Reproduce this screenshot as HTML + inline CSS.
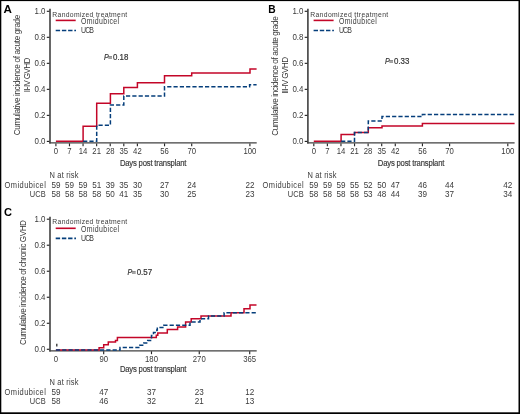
<!DOCTYPE html>
<html><head><meta charset="utf-8"><style>
html,body{margin:0;padding:0;background:#fff;}
body{width:520px;height:414px;overflow:hidden;}
svg{display:block;will-change:transform;font-family:"Liberation Sans", sans-serif;}
</style></head><body>
<svg width="520" height="414" viewBox="0 0 520 414">
<rect x="0" y="0" width="520" height="414" fill="#fff"/>
<line x1="50.00" y1="8.80" x2="50.00" y2="143.50" stroke="#404040" stroke-width="1.6"/>
<line x1="49.20" y1="142.90" x2="256.70" y2="142.90" stroke="#404040" stroke-width="1.3"/>
<line x1="46.80" y1="11.30" x2="49.50" y2="11.30" stroke="#262626" stroke-width="1.15"/>
<text transform="translate(45.50,13.80) scale(0.9,1)" font-size="8.8" fill="#3a3a3a" text-anchor="end">1.0</text>
<line x1="46.80" y1="37.32" x2="49.50" y2="37.32" stroke="#262626" stroke-width="1.15"/>
<text transform="translate(45.50,39.82) scale(0.9,1)" font-size="8.8" fill="#3a3a3a" text-anchor="end">0.8</text>
<line x1="46.80" y1="63.34" x2="49.50" y2="63.34" stroke="#262626" stroke-width="1.15"/>
<text transform="translate(45.50,65.84) scale(0.9,1)" font-size="8.8" fill="#3a3a3a" text-anchor="end">0.6</text>
<line x1="46.80" y1="89.36" x2="49.50" y2="89.36" stroke="#262626" stroke-width="1.15"/>
<text transform="translate(45.50,91.86) scale(0.9,1)" font-size="8.8" fill="#3a3a3a" text-anchor="end">0.4</text>
<line x1="46.80" y1="115.38" x2="49.50" y2="115.38" stroke="#262626" stroke-width="1.15"/>
<text transform="translate(45.50,117.88) scale(0.9,1)" font-size="8.8" fill="#3a3a3a" text-anchor="end">0.2</text>
<line x1="46.80" y1="141.40" x2="49.50" y2="141.40" stroke="#262626" stroke-width="1.15"/>
<text transform="translate(45.50,143.90) scale(0.9,1)" font-size="8.8" fill="#3a3a3a" text-anchor="end">0.0</text>
<line x1="55.90" y1="143.40" x2="55.90" y2="146.30" stroke="#262626" stroke-width="1.15"/>
<text transform="translate(55.90,154.10) scale(0.9,1)" font-size="8.6" fill="#3a3a3a" text-anchor="middle">0</text>
<line x1="69.48" y1="143.40" x2="69.48" y2="146.30" stroke="#262626" stroke-width="1.15"/>
<text transform="translate(69.48,154.10) scale(0.9,1)" font-size="8.6" fill="#3a3a3a" text-anchor="middle">7</text>
<line x1="83.06" y1="143.40" x2="83.06" y2="146.30" stroke="#262626" stroke-width="1.15"/>
<text transform="translate(83.06,154.10) scale(0.9,1)" font-size="8.6" fill="#3a3a3a" text-anchor="middle">14</text>
<line x1="96.64" y1="143.40" x2="96.64" y2="146.30" stroke="#262626" stroke-width="1.15"/>
<text transform="translate(96.64,154.10) scale(0.9,1)" font-size="8.6" fill="#3a3a3a" text-anchor="middle">21</text>
<line x1="110.22" y1="143.40" x2="110.22" y2="146.30" stroke="#262626" stroke-width="1.15"/>
<text transform="translate(110.22,154.10) scale(0.9,1)" font-size="8.6" fill="#3a3a3a" text-anchor="middle">28</text>
<line x1="123.80" y1="143.40" x2="123.80" y2="146.30" stroke="#262626" stroke-width="1.15"/>
<text transform="translate(123.80,154.10) scale(0.9,1)" font-size="8.6" fill="#3a3a3a" text-anchor="middle">35</text>
<line x1="137.38" y1="143.40" x2="137.38" y2="146.30" stroke="#262626" stroke-width="1.15"/>
<text transform="translate(137.38,154.10) scale(0.9,1)" font-size="8.6" fill="#3a3a3a" text-anchor="middle">42</text>
<line x1="164.54" y1="143.40" x2="164.54" y2="146.30" stroke="#262626" stroke-width="1.15"/>
<text transform="translate(164.54,154.10) scale(0.9,1)" font-size="8.6" fill="#3a3a3a" text-anchor="middle">56</text>
<line x1="191.70" y1="143.40" x2="191.70" y2="146.30" stroke="#262626" stroke-width="1.15"/>
<text transform="translate(191.70,154.10) scale(0.9,1)" font-size="8.6" fill="#3a3a3a" text-anchor="middle">70</text>
<line x1="249.90" y1="143.40" x2="249.90" y2="146.30" stroke="#262626" stroke-width="1.15"/>
<text transform="translate(249.90,154.10) scale(0.9,1)" font-size="8.6" fill="#3a3a3a" text-anchor="middle">100</text>
<text transform="translate(119.90,166.10) scale(0.8,1)" font-size="9.6" fill="#383838" textLength="83.25" lengthAdjust="spacing" stroke="#383838" stroke-width="0.18">Days post transplant</text>
<text transform="translate(49.50,177.50) scale(0.84,1)" font-size="8.9" fill="#3a3a3a" textLength="34.52" lengthAdjust="spacing">N at risk</text>
<text transform="translate(4.60,188.00) scale(0.84,1)" font-size="8.9" fill="#3a3a3a" textLength="49.05" lengthAdjust="spacing">Omidubicel</text>
<text transform="translate(29.80,196.90) scale(0.84,1)" font-size="8.9" fill="#3a3a3a" textLength="19.05" lengthAdjust="spacing">UCB</text>
<text transform="translate(55.90,188.00) scale(0.9,1)" font-size="9.0" fill="#3a3a3a" text-anchor="middle">59</text>
<text transform="translate(55.90,197.00) scale(0.9,1)" font-size="9.0" fill="#3a3a3a" text-anchor="middle">58</text>
<text transform="translate(69.48,188.00) scale(0.9,1)" font-size="9.0" fill="#3a3a3a" text-anchor="middle">59</text>
<text transform="translate(69.48,197.00) scale(0.9,1)" font-size="9.0" fill="#3a3a3a" text-anchor="middle">58</text>
<text transform="translate(83.06,188.00) scale(0.9,1)" font-size="9.0" fill="#3a3a3a" text-anchor="middle">59</text>
<text transform="translate(83.06,197.00) scale(0.9,1)" font-size="9.0" fill="#3a3a3a" text-anchor="middle">58</text>
<text transform="translate(96.64,188.00) scale(0.9,1)" font-size="9.0" fill="#3a3a3a" text-anchor="middle">51</text>
<text transform="translate(96.64,197.00) scale(0.9,1)" font-size="9.0" fill="#3a3a3a" text-anchor="middle">58</text>
<text transform="translate(110.22,188.00) scale(0.9,1)" font-size="9.0" fill="#3a3a3a" text-anchor="middle">39</text>
<text transform="translate(110.22,197.00) scale(0.9,1)" font-size="9.0" fill="#3a3a3a" text-anchor="middle">50</text>
<text transform="translate(123.80,188.00) scale(0.9,1)" font-size="9.0" fill="#3a3a3a" text-anchor="middle">35</text>
<text transform="translate(123.80,197.00) scale(0.9,1)" font-size="9.0" fill="#3a3a3a" text-anchor="middle">41</text>
<text transform="translate(137.38,188.00) scale(0.9,1)" font-size="9.0" fill="#3a3a3a" text-anchor="middle">30</text>
<text transform="translate(137.38,197.00) scale(0.9,1)" font-size="9.0" fill="#3a3a3a" text-anchor="middle">35</text>
<text transform="translate(164.54,188.00) scale(0.9,1)" font-size="9.0" fill="#3a3a3a" text-anchor="middle">27</text>
<text transform="translate(164.54,197.00) scale(0.9,1)" font-size="9.0" fill="#3a3a3a" text-anchor="middle">30</text>
<text transform="translate(191.70,188.00) scale(0.9,1)" font-size="9.0" fill="#3a3a3a" text-anchor="middle">24</text>
<text transform="translate(191.70,197.00) scale(0.9,1)" font-size="9.0" fill="#3a3a3a" text-anchor="middle">25</text>
<text transform="translate(249.90,188.00) scale(0.9,1)" font-size="9.0" fill="#3a3a3a" text-anchor="middle">22</text>
<text transform="translate(249.90,197.00) scale(0.9,1)" font-size="9.0" fill="#3a3a3a" text-anchor="middle">23</text>
<text transform="translate(52.30,16.50) scale(0.84,1)" font-size="8.1" fill="#3a3a3a" textLength="89.17" lengthAdjust="spacing">Randomized treatment</text>
<line x1="55.70" y1="20.40" x2="75.70" y2="20.40" stroke="#c30628" stroke-width="1.6"/>
<text transform="translate(81.00,23.80) scale(0.8,1)" font-size="8.7" fill="#3a3a3a" textLength="47.50" lengthAdjust="spacing">Omidubicel</text>
<line x1="55.70" y1="30.50" x2="76.00" y2="30.50" stroke="#053e7b" stroke-width="1.6" stroke-dasharray="4.4 1.8"/>
<text transform="translate(81.00,32.70) scale(0.8,1)" font-size="8.7" fill="#3a3a3a" textLength="16.25" lengthAdjust="spacing">UCB</text>
<text transform="translate(103.90,59.50) scale(0.82,1)" font-size="8.6" fill="#333" font-style="italic" stroke="#333" stroke-width="0.2">P</text>
<rect x="108.30" y="56.35" width="3.7" height="0.9" fill="#555"/>
<rect x="108.30" y="57.65" width="3.7" height="0.9" fill="#555"/>
<text x="113.00" y="59.50" font-size="8.6" fill="#333" stroke="#333" stroke-width="0.2" textLength="15.4" lengthAdjust="spacingAndGlyphs">0.18</text>
<line x1="307.90" y1="8.80" x2="307.90" y2="143.50" stroke="#404040" stroke-width="1.6"/>
<line x1="307.10" y1="142.90" x2="514.60" y2="142.90" stroke="#404040" stroke-width="1.3"/>
<line x1="304.70" y1="11.30" x2="307.40" y2="11.30" stroke="#262626" stroke-width="1.15"/>
<text transform="translate(303.40,13.80) scale(0.9,1)" font-size="8.8" fill="#3a3a3a" text-anchor="end">1.0</text>
<line x1="304.70" y1="37.32" x2="307.40" y2="37.32" stroke="#262626" stroke-width="1.15"/>
<text transform="translate(303.40,39.82) scale(0.9,1)" font-size="8.8" fill="#3a3a3a" text-anchor="end">0.8</text>
<line x1="304.70" y1="63.34" x2="307.40" y2="63.34" stroke="#262626" stroke-width="1.15"/>
<text transform="translate(303.40,65.84) scale(0.9,1)" font-size="8.8" fill="#3a3a3a" text-anchor="end">0.6</text>
<line x1="304.70" y1="89.36" x2="307.40" y2="89.36" stroke="#262626" stroke-width="1.15"/>
<text transform="translate(303.40,91.86) scale(0.9,1)" font-size="8.8" fill="#3a3a3a" text-anchor="end">0.4</text>
<line x1="304.70" y1="115.38" x2="307.40" y2="115.38" stroke="#262626" stroke-width="1.15"/>
<text transform="translate(303.40,117.88) scale(0.9,1)" font-size="8.8" fill="#3a3a3a" text-anchor="end">0.2</text>
<line x1="304.70" y1="141.40" x2="307.40" y2="141.40" stroke="#262626" stroke-width="1.15"/>
<text transform="translate(303.40,143.90) scale(0.9,1)" font-size="8.8" fill="#3a3a3a" text-anchor="end">0.0</text>
<line x1="313.80" y1="143.40" x2="313.80" y2="146.30" stroke="#262626" stroke-width="1.15"/>
<text transform="translate(313.80,154.10) scale(0.9,1)" font-size="8.6" fill="#3a3a3a" text-anchor="middle">0</text>
<line x1="327.38" y1="143.40" x2="327.38" y2="146.30" stroke="#262626" stroke-width="1.15"/>
<text transform="translate(327.38,154.10) scale(0.9,1)" font-size="8.6" fill="#3a3a3a" text-anchor="middle">7</text>
<line x1="340.96" y1="143.40" x2="340.96" y2="146.30" stroke="#262626" stroke-width="1.15"/>
<text transform="translate(340.96,154.10) scale(0.9,1)" font-size="8.6" fill="#3a3a3a" text-anchor="middle">14</text>
<line x1="354.54" y1="143.40" x2="354.54" y2="146.30" stroke="#262626" stroke-width="1.15"/>
<text transform="translate(354.54,154.10) scale(0.9,1)" font-size="8.6" fill="#3a3a3a" text-anchor="middle">21</text>
<line x1="368.12" y1="143.40" x2="368.12" y2="146.30" stroke="#262626" stroke-width="1.15"/>
<text transform="translate(368.12,154.10) scale(0.9,1)" font-size="8.6" fill="#3a3a3a" text-anchor="middle">28</text>
<line x1="381.70" y1="143.40" x2="381.70" y2="146.30" stroke="#262626" stroke-width="1.15"/>
<text transform="translate(381.70,154.10) scale(0.9,1)" font-size="8.6" fill="#3a3a3a" text-anchor="middle">35</text>
<line x1="395.28" y1="143.40" x2="395.28" y2="146.30" stroke="#262626" stroke-width="1.15"/>
<text transform="translate(395.28,154.10) scale(0.9,1)" font-size="8.6" fill="#3a3a3a" text-anchor="middle">42</text>
<line x1="422.44" y1="143.40" x2="422.44" y2="146.30" stroke="#262626" stroke-width="1.15"/>
<text transform="translate(422.44,154.10) scale(0.9,1)" font-size="8.6" fill="#3a3a3a" text-anchor="middle">56</text>
<line x1="449.60" y1="143.40" x2="449.60" y2="146.30" stroke="#262626" stroke-width="1.15"/>
<text transform="translate(449.60,154.10) scale(0.9,1)" font-size="8.6" fill="#3a3a3a" text-anchor="middle">70</text>
<line x1="507.80" y1="143.40" x2="507.80" y2="146.30" stroke="#262626" stroke-width="1.15"/>
<text transform="translate(507.80,154.10) scale(0.9,1)" font-size="8.6" fill="#3a3a3a" text-anchor="middle">100</text>
<text transform="translate(377.80,166.10) scale(0.8,1)" font-size="9.6" fill="#383838" textLength="83.25" lengthAdjust="spacing" stroke="#383838" stroke-width="0.18">Days post transplant</text>
<text transform="translate(307.40,177.50) scale(0.84,1)" font-size="8.9" fill="#3a3a3a" textLength="34.52" lengthAdjust="spacing">N at risk</text>
<text transform="translate(262.50,188.00) scale(0.84,1)" font-size="8.9" fill="#3a3a3a" textLength="49.05" lengthAdjust="spacing">Omidubicel</text>
<text transform="translate(287.70,196.90) scale(0.84,1)" font-size="8.9" fill="#3a3a3a" textLength="19.05" lengthAdjust="spacing">UCB</text>
<text transform="translate(313.80,188.00) scale(0.9,1)" font-size="9.0" fill="#3a3a3a" text-anchor="middle">59</text>
<text transform="translate(313.80,197.00) scale(0.9,1)" font-size="9.0" fill="#3a3a3a" text-anchor="middle">58</text>
<text transform="translate(327.38,188.00) scale(0.9,1)" font-size="9.0" fill="#3a3a3a" text-anchor="middle">59</text>
<text transform="translate(327.38,197.00) scale(0.9,1)" font-size="9.0" fill="#3a3a3a" text-anchor="middle">58</text>
<text transform="translate(340.96,188.00) scale(0.9,1)" font-size="9.0" fill="#3a3a3a" text-anchor="middle">59</text>
<text transform="translate(340.96,197.00) scale(0.9,1)" font-size="9.0" fill="#3a3a3a" text-anchor="middle">58</text>
<text transform="translate(354.54,188.00) scale(0.9,1)" font-size="9.0" fill="#3a3a3a" text-anchor="middle">55</text>
<text transform="translate(354.54,197.00) scale(0.9,1)" font-size="9.0" fill="#3a3a3a" text-anchor="middle">58</text>
<text transform="translate(368.12,188.00) scale(0.9,1)" font-size="9.0" fill="#3a3a3a" text-anchor="middle">52</text>
<text transform="translate(368.12,197.00) scale(0.9,1)" font-size="9.0" fill="#3a3a3a" text-anchor="middle">53</text>
<text transform="translate(381.70,188.00) scale(0.9,1)" font-size="9.0" fill="#3a3a3a" text-anchor="middle">50</text>
<text transform="translate(381.70,197.00) scale(0.9,1)" font-size="9.0" fill="#3a3a3a" text-anchor="middle">48</text>
<text transform="translate(395.28,188.00) scale(0.9,1)" font-size="9.0" fill="#3a3a3a" text-anchor="middle">47</text>
<text transform="translate(395.28,197.00) scale(0.9,1)" font-size="9.0" fill="#3a3a3a" text-anchor="middle">44</text>
<text transform="translate(422.44,188.00) scale(0.9,1)" font-size="9.0" fill="#3a3a3a" text-anchor="middle">46</text>
<text transform="translate(422.44,197.00) scale(0.9,1)" font-size="9.0" fill="#3a3a3a" text-anchor="middle">39</text>
<text transform="translate(449.60,188.00) scale(0.9,1)" font-size="9.0" fill="#3a3a3a" text-anchor="middle">44</text>
<text transform="translate(449.60,197.00) scale(0.9,1)" font-size="9.0" fill="#3a3a3a" text-anchor="middle">37</text>
<text transform="translate(507.80,188.00) scale(0.9,1)" font-size="9.0" fill="#3a3a3a" text-anchor="middle">42</text>
<text transform="translate(507.80,197.00) scale(0.9,1)" font-size="9.0" fill="#3a3a3a" text-anchor="middle">34</text>
<text transform="translate(310.20,16.50) scale(0.84,1)" font-size="8.1" fill="#3a3a3a" textLength="92.86" lengthAdjust="spacing">Randomized ttreatment</text>
<line x1="313.60" y1="20.40" x2="333.60" y2="20.40" stroke="#c30628" stroke-width="1.6"/>
<text transform="translate(338.90,23.80) scale(0.8,1)" font-size="8.7" fill="#3a3a3a" textLength="47.50" lengthAdjust="spacing">Omidubicel</text>
<line x1="313.60" y1="30.50" x2="333.90" y2="30.50" stroke="#053e7b" stroke-width="1.6" stroke-dasharray="4.4 1.8"/>
<text transform="translate(338.90,32.70) scale(0.8,1)" font-size="8.7" fill="#3a3a3a" textLength="16.25" lengthAdjust="spacing">UCB</text>
<text transform="translate(384.90,63.50) scale(0.82,1)" font-size="8.6" fill="#333" font-style="italic" stroke="#333" stroke-width="0.2">P</text>
<rect x="389.30" y="60.35" width="3.7" height="0.9" fill="#555"/>
<rect x="389.30" y="61.65" width="3.7" height="0.9" fill="#555"/>
<text x="394.00" y="63.50" font-size="8.6" fill="#333" stroke="#333" stroke-width="0.2" textLength="15.4" lengthAdjust="spacingAndGlyphs">0.33</text>
<line x1="50.00" y1="216.70" x2="50.00" y2="351.40" stroke="#404040" stroke-width="1.6"/>
<line x1="49.20" y1="350.80" x2="256.70" y2="350.80" stroke="#404040" stroke-width="1.3"/>
<line x1="46.80" y1="219.20" x2="49.50" y2="219.20" stroke="#262626" stroke-width="1.15"/>
<text transform="translate(45.50,221.70) scale(0.9,1)" font-size="8.8" fill="#3a3a3a" text-anchor="end">1.0</text>
<line x1="46.80" y1="245.22" x2="49.50" y2="245.22" stroke="#262626" stroke-width="1.15"/>
<text transform="translate(45.50,247.72) scale(0.9,1)" font-size="8.8" fill="#3a3a3a" text-anchor="end">0.8</text>
<line x1="46.80" y1="271.24" x2="49.50" y2="271.24" stroke="#262626" stroke-width="1.15"/>
<text transform="translate(45.50,273.74) scale(0.9,1)" font-size="8.8" fill="#3a3a3a" text-anchor="end">0.6</text>
<line x1="46.80" y1="297.26" x2="49.50" y2="297.26" stroke="#262626" stroke-width="1.15"/>
<text transform="translate(45.50,299.76) scale(0.9,1)" font-size="8.8" fill="#3a3a3a" text-anchor="end">0.4</text>
<line x1="46.80" y1="323.28" x2="49.50" y2="323.28" stroke="#262626" stroke-width="1.15"/>
<text transform="translate(45.50,325.78) scale(0.9,1)" font-size="8.8" fill="#3a3a3a" text-anchor="end">0.2</text>
<line x1="46.80" y1="349.30" x2="49.50" y2="349.30" stroke="#262626" stroke-width="1.15"/>
<text transform="translate(45.50,351.80) scale(0.9,1)" font-size="8.8" fill="#3a3a3a" text-anchor="end">0.0</text>
<text transform="translate(55.90,362.00) scale(0.9,1)" font-size="8.6" fill="#3a3a3a" text-anchor="middle">0</text>
<line x1="103.69" y1="351.30" x2="103.69" y2="354.20" stroke="#262626" stroke-width="1.15"/>
<text transform="translate(103.69,362.00) scale(0.9,1)" font-size="8.6" fill="#3a3a3a" text-anchor="middle">90</text>
<line x1="151.48" y1="351.30" x2="151.48" y2="354.20" stroke="#262626" stroke-width="1.15"/>
<text transform="translate(151.48,362.00) scale(0.9,1)" font-size="8.6" fill="#3a3a3a" text-anchor="middle">180</text>
<line x1="199.27" y1="351.30" x2="199.27" y2="354.20" stroke="#262626" stroke-width="1.15"/>
<text transform="translate(199.27,362.00) scale(0.9,1)" font-size="8.6" fill="#3a3a3a" text-anchor="middle">270</text>
<line x1="249.72" y1="351.30" x2="249.72" y2="354.20" stroke="#262626" stroke-width="1.15"/>
<text transform="translate(249.72,362.00) scale(0.9,1)" font-size="8.6" fill="#3a3a3a" text-anchor="middle">365</text>
<text transform="translate(119.90,372.10) scale(0.8,1)" font-size="9.6" fill="#383838" textLength="83.25" lengthAdjust="spacing" stroke="#383838" stroke-width="0.18">Days post transplant</text>
<text transform="translate(49.50,384.60) scale(0.84,1)" font-size="8.9" fill="#3a3a3a" textLength="34.52" lengthAdjust="spacing">N at risk</text>
<text transform="translate(4.60,394.60) scale(0.84,1)" font-size="8.9" fill="#3a3a3a" textLength="49.05" lengthAdjust="spacing">Omidubicel</text>
<text transform="translate(29.80,403.50) scale(0.84,1)" font-size="8.9" fill="#3a3a3a" textLength="19.05" lengthAdjust="spacing">UCB</text>
<text transform="translate(55.90,394.60) scale(0.9,1)" font-size="9.0" fill="#3a3a3a" text-anchor="middle">59</text>
<text transform="translate(55.90,403.60) scale(0.9,1)" font-size="9.0" fill="#3a3a3a" text-anchor="middle">58</text>
<text transform="translate(103.69,394.60) scale(0.9,1)" font-size="9.0" fill="#3a3a3a" text-anchor="middle">47</text>
<text transform="translate(103.69,403.60) scale(0.9,1)" font-size="9.0" fill="#3a3a3a" text-anchor="middle">46</text>
<text transform="translate(151.48,394.60) scale(0.9,1)" font-size="9.0" fill="#3a3a3a" text-anchor="middle">37</text>
<text transform="translate(151.48,403.60) scale(0.9,1)" font-size="9.0" fill="#3a3a3a" text-anchor="middle">32</text>
<text transform="translate(199.27,394.60) scale(0.9,1)" font-size="9.0" fill="#3a3a3a" text-anchor="middle">23</text>
<text transform="translate(199.27,403.60) scale(0.9,1)" font-size="9.0" fill="#3a3a3a" text-anchor="middle">21</text>
<text transform="translate(249.72,394.60) scale(0.9,1)" font-size="9.0" fill="#3a3a3a" text-anchor="middle">12</text>
<text transform="translate(249.72,403.60) scale(0.9,1)" font-size="9.0" fill="#3a3a3a" text-anchor="middle">13</text>
<text transform="translate(52.30,224.40) scale(0.84,1)" font-size="8.1" fill="#3a3a3a" textLength="89.17" lengthAdjust="spacing">Randomized treatment</text>
<line x1="55.70" y1="228.30" x2="75.70" y2="228.30" stroke="#c30628" stroke-width="1.6"/>
<text transform="translate(81.00,231.70) scale(0.8,1)" font-size="8.7" fill="#3a3a3a" textLength="47.50" lengthAdjust="spacing">Omidubicel</text>
<line x1="55.70" y1="238.40" x2="76.00" y2="238.40" stroke="#053e7b" stroke-width="1.6" stroke-dasharray="4.4 1.8"/>
<text transform="translate(81.00,240.60) scale(0.8,1)" font-size="8.7" fill="#3a3a3a" textLength="16.25" lengthAdjust="spacing">UCB</text>
<text transform="translate(127.60,274.50) scale(0.82,1)" font-size="8.6" fill="#333" font-style="italic" stroke="#333" stroke-width="0.2">P</text>
<rect x="132.00" y="271.35" width="3.7" height="0.9" fill="#555"/>
<rect x="132.00" y="272.65" width="3.7" height="0.9" fill="#555"/>
<text x="136.70" y="274.50" font-size="8.6" fill="#333" stroke="#333" stroke-width="0.2" textLength="15.4" lengthAdjust="spacingAndGlyphs">0.57</text>
<text transform="translate(20.00,75.00) rotate(-90) scale(0.82,1)" x="0" y="0" text-anchor="middle" font-size="9.9" fill="#363636" textLength="147.20" lengthAdjust="spacing">Cumulative incidence of acute grade</text>
<text transform="translate(29.90,75.00) rotate(-90) scale(0.82,1)" x="0" y="0" text-anchor="middle" font-size="9.9" fill="#363636" textLength="42.32" lengthAdjust="spacing">II-IV GVHD</text>
<text transform="translate(277.90,76.00) rotate(-90) scale(0.82,1)" x="0" y="0" text-anchor="middle" font-size="9.9" fill="#363636" textLength="145.73" lengthAdjust="spacing">Cumulative incidence of acute grade</text>
<text transform="translate(287.80,75.40) rotate(-90) scale(0.82,1)" x="0" y="0" text-anchor="middle" font-size="9.9" fill="#363636" textLength="44.88" lengthAdjust="spacing">III-IV GVHD</text>
<text transform="translate(25.90,282.50) rotate(-90) scale(0.82,1)" x="0" y="0" text-anchor="middle" font-size="9.9" fill="#363636" textLength="152.44" lengthAdjust="spacing">Cumulative incidence of chronic GVHD</text>
<text x="3.60" y="12.70" font-size="11.5" fill="#000" textLength="8.40" lengthAdjust="spacingAndGlyphs" font-weight="bold">A</text>
<text x="268.30" y="12.60" font-size="11.5" fill="#000" textLength="7.40" lengthAdjust="spacingAndGlyphs" font-weight="bold">B</text>
<text x="4.10" y="216.00" font-size="11.5" fill="#000" textLength="8.00" lengthAdjust="spacingAndGlyphs" font-weight="bold">C</text>
<path d="M55.9,141.3 H83.1 V126.2 H96.7 V103.2 H110.4 V93.7 H123.8 V87.6 H137.4 V82.8 H164.5 V75.7 H191.7 V73 H250 V68.9 H256.6" fill="none" stroke="#c30628" stroke-width="1.5"/>
<path d="M83.1,141.3 H96.7 V125.2 H110.4 V105 H123.8 V96 H164.5 V86.8 H249.6 V84.7 H256.6" fill="none" stroke="#053e7b" stroke-width="1.5" stroke-dasharray="4.2 2.1"/>
<path d="M313.8,141.2 H341.1 V134.4 H354.5 V132.6 H368.3 V127.8 H382 V125.9 H422.4 V123.4 H514.6" fill="none" stroke="#c30628" stroke-width="1.5"/>
<path d="M341.1,141.2 H354.5 V132.6 H368.3 V121 H382 V116.6 H422.4 V114.4 H514.6" fill="none" stroke="#053e7b" stroke-width="1.5" stroke-dasharray="4.2 2.1"/>
<path d="M55.9,350.1 H99.1 V347.8 H103.7 V344.8 H108.3 V342 H115.5 V340.4 H117.4 V337.6 H156.3 V335.2 H157.8 V333.1 H167.3 V329.6 H177.6 V326.9 H185.6 V322 H191.2 V318.8 H201 V316.1 H231 V312.7 H244 V308.7 H250 V305 H256.5" fill="none" stroke="#c30628" stroke-width="1.5"/>
<path d="M55.9,350.1 H120 V347.6 H139.8 V345.2 H143.8 V342.9 H147.7 V340.5 H151.5 V335.4 H153.5 V332.5 H156.8 V330 H157.3 V327.6 H163.8 V325.2 H190 V321.9 H200 V318.8 H208.5 V316.1 H224.1 V312.7 H256.5" fill="none" stroke="#053e7b" stroke-width="1.5" stroke-dasharray="4.2 2.1"/>
<line x1="56.80" y1="343.70" x2="56.80" y2="346.60" stroke="#2a2a2a" stroke-width="1.3"/>
<rect x="0" y="0" width="520" height="1.1" fill="#000"/>
<rect x="0" y="0" width="1.3" height="414" fill="#000"/>
<rect x="518.5" y="0" width="1.5" height="414" fill="#000"/>
<rect x="0" y="412.3" width="520" height="1.7" fill="#000"/>
</svg>
</body></html>
